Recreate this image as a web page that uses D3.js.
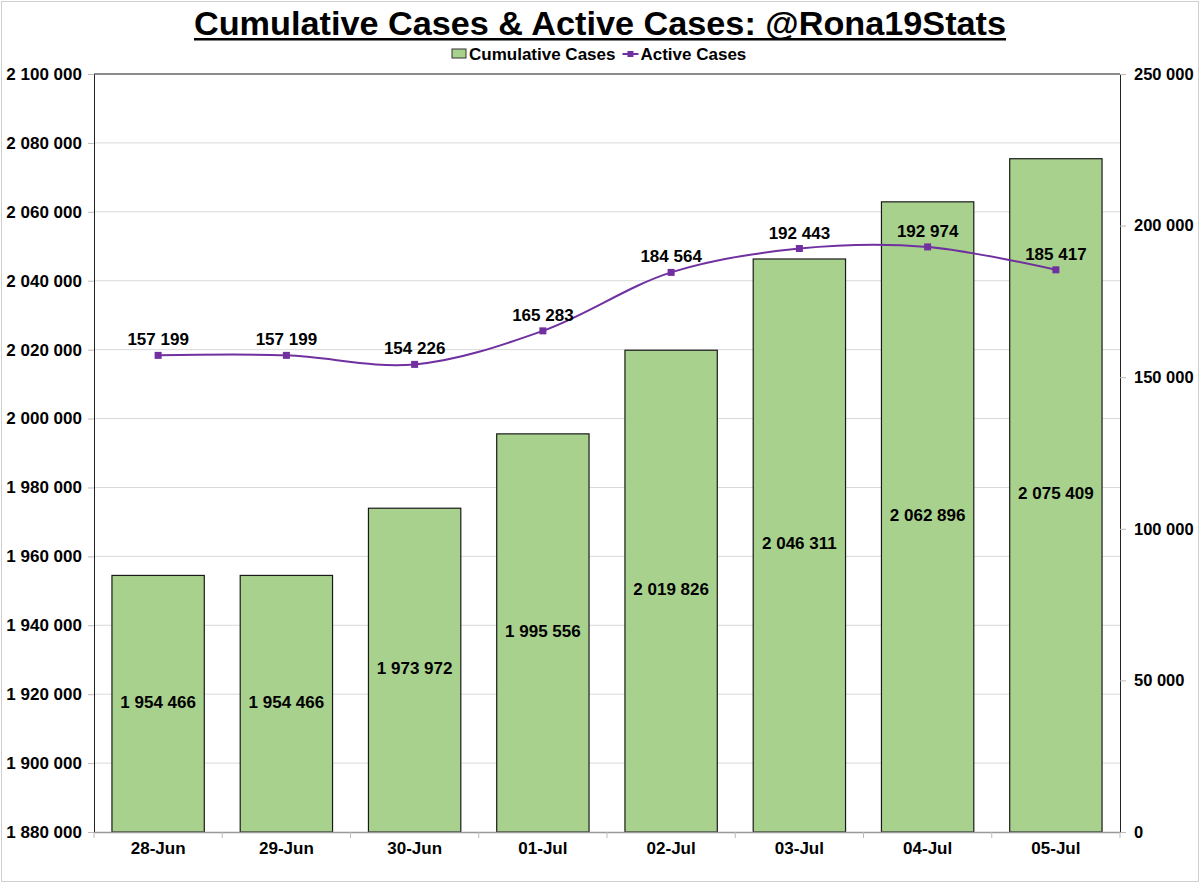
<!DOCTYPE html>
<html lang="en">
<head>
    <meta charset="UTF-8">
    <title>Cumulative Cases & Active Cases</title>
    <style>
        html, body { margin: 0; padding: 0; background: #fff; overflow: hidden; }
        svg { display: block; font-family: "Liberation Sans", Arial, Helvetica, sans-serif; }
        .bold { font-weight: bold; }
    </style>
</head>
<body>
    <div id="stage"></div>
    <script src="https://cdn.jsdelivr.net/npm/d3@7/dist/d3.min.js"></script>
    <script>
        // data
        const dates = ['28-Jun', '29-Jun', '30-Jun', '01-Jul', '02-Jul', '03-Jul', '04-Jul', '05-Jul'];
        const cumulative = [1954466, 1954466, 1973972, 1995556, 2019826, 2046311, 2062896, 2075409];
        const active = [157199, 157199, 154226, 165283, 184564, 192443, 192974, 185417];
        const leftTicks = d3.range(1880000, 2100001, 20000);
        const rightTicks = d3.range(0, 250001, 50000);

        const W = 1200, H = 883;
        const m = { left: 94, right: 1120, top: 74, bottom: 832 };
        const fmt = v => d3.format(',')(v).replace(/,/g, ' ');

        const svg = d3.select('#stage').append('svg')
            .attr('width', W).attr('height', H);

        // outer frame
        svg.append('rect')
            .attr('x', 1.5).attr('y', 1.5)
            .attr('width', W - 3).attr('height', H - 3)
            .attr('fill', 'none').attr('stroke', '#d0d0d0');

        const x = d3.scaleBand().domain(dates).range([m.left, m.right]).paddingInner(0.28).paddingOuter(0.14);
        const yL = d3.scaleLinear().domain([1880000, 2100000]).range([m.bottom, m.top]);
        const yR = d3.scaleLinear().domain([0, 250000]).range([m.bottom, m.top]);

        // gridlines
        svg.append('g').selectAll('line').data(leftTicks.slice(1, -1)).join('line')
            .attr('x1', m.left).attr('x2', m.right)
            .attr('y1', d => yL(d)).attr('y2', d => yL(d))
            .attr('stroke', '#d9d9d9').attr('stroke-width', 1);

        // left axis
        const gL = svg.append('g').attr('transform', `translate(${m.left},0)`)
            .call(d3.axisLeft(yL).tickValues(leftTicks).tickFormat(fmt).tickSize(6).tickPadding(6));
        gL.select('.domain').attr('stroke', '#222');
        gL.selectAll('.tick line').attr('stroke', '#bbb');
        gL.selectAll('text').attr('class', 'bold').attr('font-size', 17).attr('fill', '#000')
            .attr('font-family', '"Liberation Sans", Arial, sans-serif');

        // right axis
        const gR = svg.append('g').attr('transform', `translate(${m.right},0)`)
            .call(d3.axisRight(yR).tickValues(rightTicks).tickFormat(fmt).tickSize(6).tickPadding(8));
        gR.select('.domain').attr('stroke', '#222');
        gR.selectAll('.tick line').attr('stroke', '#bbb');
        gR.selectAll('text').attr('class', 'bold').attr('font-size', 16.5).attr('fill', '#000')
            .attr('font-family', '"Liberation Sans", Arial, sans-serif');

        // top border
        svg.append('line')
            .attr('x1', m.left).attr('x2', m.right)
            .attr('y1', m.top).attr('y2', m.top)
            .attr('stroke', '#666').attr('stroke-width', 1.5);

        // bars
        svg.append('g').selectAll('rect').data(cumulative).join('rect')
            .attr('x', (d, i) => x(dates[i]))
            .attr('y', d => yL(d))
            .attr('width', x.bandwidth())
            .attr('height', d => m.bottom - yL(d))
            .attr('fill', '#a9d18e')
            .attr('stroke', '#1a1a1a').attr('stroke-width', 1.2);

        // bar labels
        svg.append('g').selectAll('text').data(cumulative).join('text')
            .attr('class', 'bold')
            .attr('x', (d, i) => x(dates[i]) + x.bandwidth() / 2)
            .attr('y', d => (yL(d) + m.bottom) / 2 - 2)
            .attr('dy', '0.35em')
            .attr('text-anchor', 'middle')
            .attr('font-size', 17)
            .text(fmt);

        // bottom axis
        const xAxis = svg.append('g').attr('transform', `translate(0,${m.bottom})`)
            .call(d3.axisBottom(x).tickSize(0).tickPadding(10));
        xAxis.select('.domain').attr('stroke', '#999').attr('stroke-width', 1.5);
        xAxis.selectAll('text').attr('class', 'bold').attr('font-size', 17).attr('fill', '#000')
            .attr('font-family', '"Liberation Sans", Arial, sans-serif');
        const step = x.step();
        svg.append('g').selectAll('line').data(d3.range(dates.length + 1)).join('line')
            .attr('x1', i => m.left + i * step).attr('x2', i => m.left + i * step)
            .attr('y1', m.bottom).attr('y2', m.bottom + 6)
            .attr('stroke', '#bbb');

        // active cases line
        const cx = i => x(dates[i]) + x.bandwidth() / 2;
        const line = d3.line()
            .x((d, i) => cx(i))
            .y(d => yR(d))
            .curve(d3.curveCatmullRom.alpha(0.5));
        svg.append('path').datum(active)
            .attr('d', line)
            .attr('fill', 'none')
            .attr('stroke', '#7030a0')
            .attr('stroke-width', 2);
        svg.append('g').selectAll('rect').data(active).join('rect')
            .attr('x', (d, i) => cx(i) - 3.5)
            .attr('y', d => yR(d) - 3.5)
            .attr('width', 7).attr('height', 7)
            .attr('fill', '#7030a0');
        svg.append('g').selectAll('text').data(active).join('text')
            .attr('class', 'bold')
            .attr('x', (d, i) => cx(i))
            .attr('y', d => yR(d) - 10)
            .attr('text-anchor', 'middle')
            .attr('font-size', 17)
            .text(fmt);

        // title
        svg.append('text')
            .attr('class', 'bold')
            .attr('x', W / 2).attr('y', 35)
            .attr('text-anchor', 'middle')
            .attr('font-size', 34)
            .attr('textLength', 812)
            .attr('lengthAdjust', 'spacingAndGlyphs')
            .text('Cumulative Cases & Active Cases: @Rona19Stats');
        svg.append('rect')
            .attr('x', W / 2 - 406).attr('y', 38)
            .attr('width', 812).attr('height', 2.5)
            .attr('fill', '#000');

        // legend
        const lg = svg.append('g');
        lg.append('rect').attr('x', 452).attr('y', 49).attr('width', 14).attr('height', 9)
            .attr('fill', '#a9d18e').attr('stroke', '#333');
        const t1 = lg.append('text').attr('class', 'bold').attr('font-size', 17)
            .attr('x', 469).attr('y', 60).text('Cumulative Cases');
        const lx = 469 + t1.node().getComputedTextLength() + 7;
        lg.append('line').attr('x1', lx).attr('x2', lx + 16).attr('y1', 54).attr('y2', 54)
            .attr('stroke', '#7030a0').attr('stroke-width', 2);
        lg.append('rect').attr('x', lx + 5).attr('y', 51).attr('width', 6).attr('height', 6)
            .attr('fill', '#7030a0');
        lg.append('text').attr('class', 'bold').attr('font-size', 17)
            .attr('x', lx + 18).attr('y', 60).text('Active Cases');
    </script>
</body>
</html>
